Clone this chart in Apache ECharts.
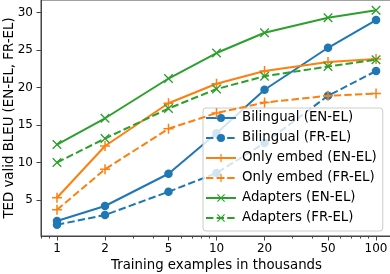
<!DOCTYPE html>
<html>
<head>
<meta charset="utf-8">
<script src="https://cdn.jsdelivr.net/npm/echarts@6/dist/echarts.min.js"></script>
<style>
html,body{margin:0;padding:0;background:#fff;}
#chart{width:390px;height:274px;}
</style>
</head>
<body>
<div id="chart"></div>
<script>
var trainingK = [1, 2, 5, 10, 20, 50, 100];
var bilingualEN = [2.2, 4.2, 8.5, 13.9, 19.7, 25.3, 29.0];
var bilingualFR = [1.7, 3.0, 6.1, 8.6, 12.6, 18.9, 22.2];
var onlyEmbedEN = [5.3, 12.2, 17.9, 20.5, 22.2, 23.4, 23.8];
var onlyEmbedFR = [3.7, 9.1, 14.5, 16.6, 18.0, 18.9, 19.2];
var adaptersEN = [12.4, 15.9, 21.2, 24.6, 27.3, 29.3, 30.3];
var adaptersFR = [10.0, 13.2, 17.2, 19.8, 21.5, 22.8, 23.7];
var xTickLabels = [1, 2, 5, 10, 20, 50, 100];
var xMinorTicks = [0.8, 0.9, 3, 4, 6, 7, 8, 9, 30, 40, 60, 70, 80, 90];
var yTickLabels = [5, 10, 15, 20, 25, 30];

var seriesNames = ['Bilingual (EN-EL)', 'Bilingual (FR-EL)', 'Only embed (EN-EL)', 'Only embed (FR-EL)', 'Adapters (EN-EL)', 'Adapters (FR-EL)'];
var seriesValues = [bilingualEN, bilingualFR, onlyEmbedEN, onlyEmbedFR, adaptersEN, adaptersFR];
var colors = ['#1f77b4', '#1f77b4', '#ff7f0e', '#ff7f0e', '#2ca02c', '#2ca02c'];
var plusPath = 'path://M4.25,0H5.75V4.25H10V5.75H5.75V10H4.25V5.75H0V4.25H4.25Z';
var xPath = 'path://M0,1L1,0L5,4L9,0L10,1L6,5L10,9L9,10L5,6L1,10L0,9L4,5Z';
var symbols = ['circle', 'circle', plusPath, plusPath, xPath, xPath];
var symbolSizes = [8.5, 8.5, 10, 10, 9.5, 9.5];
var dashed = [false, true, false, true, false, true];

var font = 'DejaVu Sans';
var series = seriesNames.map(function (name, i) {
  return {
    name: name,
    type: 'line',
    xAxisIndex: 0,
    data: trainingK.map(function (x, j) { return [x, seriesValues[i][j]]; }),
    symbol: symbols[i],
    symbolSize: symbolSizes[i],
    showSymbol: true,
    color: colors[i],
    itemStyle: { color: colors[i] },
    lineStyle: { color: colors[i], width: 2, type: dashed[i] ? [7.4, 3.2] : 'solid' },
    animation: false,
    z: 2 + i
  };
});

var chart = echarts.init(document.getElementById('chart'), null, { renderer: 'canvas' });
chart.setOption({
  animation: false,
  backgroundColor: '#fff',
  grid: { left: 41, top: 0, width: 351, height: 236, containLabel: false, outerBoundsMode: 'none', show: true, borderColor: '#444', borderWidth: 1, backgroundColor: 'transparent' },
  xAxis: [{
    type: 'log', logBase: 10, min: 0.794, max: 125.9,
    name: 'Training examples in thousands', nameLocation: 'middle', nameGap: 23, nameMoveOverlap: false,
    nameTextStyle: { fontFamily: font, fontSize: 13.33, color: '#000' },
    axisLine: { show: true, lineStyle: { color: '#444', width: 1 } },
    axisTick: { show: true, length: 4.5, inside: false, customValues: xTickLabels, lineStyle: { color: '#444' } },
    axisLabel: { show: true, customValues: xTickLabels, fontFamily: font, fontSize: 12, color: '#000', margin: 7 },
    splitLine: { show: false }, minorTick: { show: false }, minorSplitLine: { show: false }
  }, {
    type: 'log', logBase: 10, min: 0.794, max: 125.9, position: 'bottom',
    axisLine: { show: false },
    axisTick: { show: true, length: 2.6, customValues: xMinorTicks, lineStyle: { color: '#444' } },
    axisLabel: { show: false },
    splitLine: { show: false }
  }],
  yAxis: {
    type: 'value', min: 0.2, max: 31.67,
    name: 'TED valid BLEU (EN-EL, FR-EL)', nameLocation: 'middle', nameGap: 25, nameMoveOverlap: false,
    nameTextStyle: { fontFamily: font, fontSize: 13.33, color: '#000' },
    axisLine: { show: true, lineStyle: { color: '#444', width: 1 } },
    axisTick: { show: true, length: 4.5, customValues: yTickLabels, lineStyle: { color: '#444' } },
    axisLabel: { show: true, customValues: yTickLabels, fontFamily: font, fontSize: 12, color: '#000', margin: 8 },
    splitLine: { show: false }
  },
  legend: {
    orient: 'vertical', left: 203, top: 108,
    itemWidth: 30, itemHeight: 10, itemGap: 6,
    padding: [3, 6, 6, 2],
    backgroundColor: 'rgba(255,255,255,0.8)', borderColor: '#ccc', borderWidth: 1, borderRadius: 3,
    textStyle: { fontFamily: font, fontSize: 13.33, lineHeight: 14, color: '#000', padding: [0, 0, 0, 1] },
    data: seriesNames
  },
  series: series
});
</script>
</body>
</html>
